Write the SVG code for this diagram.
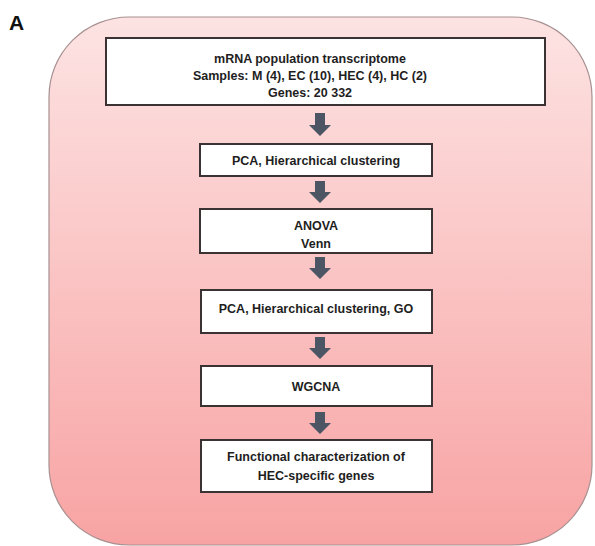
<svg xmlns="http://www.w3.org/2000/svg" width="595" height="546" viewBox="0 0 595 546">
<style>
.box{fill:#fff;stroke:#3b3333;stroke-width:2}
.t{font-family:"Liberation Sans",Arial,sans-serif;font-weight:bold;font-size:12.5px;fill:#1e1e1e;text-anchor:middle}
.arr{fill:#4b5563}
</style>
<defs>
<linearGradient id="bg" x1="0" y1="0" x2="0" y2="1">
<stop offset="0" stop-color="#fde3e3"/>
<stop offset="1" stop-color="#f8a3a3"/>
</linearGradient>
</defs>
<rect width="595" height="546" fill="#fff"/>
<text x="9" y="30" font-family="Liberation Sans,Arial,sans-serif" font-weight="bold" font-size="21" fill="#111">A</text>
<rect id="panel" x="49" y="17" width="543" height="528" rx="80" ry="80" fill="url(#bg)" stroke="#a89090" stroke-width="1.2"/>
<g id="connectors">
<path class="arr" d="M315,113 h10 v12 h6 l-11,11 l-11,-11 h6 z"/>
<path class="arr" d="M315,181 h10 v11 h6 l-11,11 l-11,-11 h6 z"/>
<path class="arr" d="M315,257 h10 v11 h6 l-11,11 l-11,-11 h6 z"/>
<path class="arr" d="M315,337 h10 v11 h6 l-11,11 l-11,-11 h6 z"/>
<path class="arr" d="M315,412 h10 v11 h6 l-11,11 l-11,-11 h6 z"/>
</g>
<g id="n1">
<rect class="box" x="106" y="38" width="439" height="67"/>
<text class="t" x="310" y="63">mRNA population transcriptome</text>
<text class="t" x="310" y="80">Samples: M (4), EC (10), HEC (4), HC (2)</text>
<text class="t" x="310" y="97">Genes: 20 332</text>
</g>
<g id="n2">
<rect class="box" x="200" y="144" width="232" height="32"/>
<text class="t" x="316" y="165">PCA, Hierarchical clustering</text>
</g>
<g id="n3">
<rect class="box" x="200" y="209" width="232" height="44"/>
<text class="t" x="316" y="230">ANOVA</text>
<text class="t" x="316" y="248">Venn</text>
</g>
<g id="n4">
<rect class="box" x="201" y="290" width="231" height="43"/>
<text class="t" x="316" y="313">PCA, Hierarchical clustering, GO</text>
</g>
<g id="n5">
<rect class="box" x="201" y="366" width="231" height="40"/>
<text class="t" x="316" y="391">WGCNA</text>
</g>
<g id="n6">
<rect class="box" x="201" y="440" width="231" height="52"/>
<text class="t" x="316" y="461">Functional characterization of</text>
<text class="t" x="316" y="480">HEC-specific genes</text>
</g>
</svg>
